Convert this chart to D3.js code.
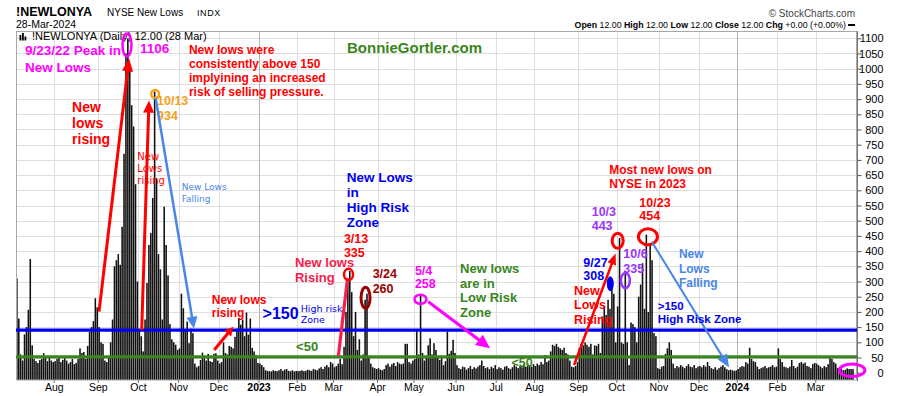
<!DOCTYPE html>
<html><head><meta charset="utf-8">
<script src="https://cdn.jsdelivr.net/npm/d3@7"></script>
<style>
html,body{margin:0;padding:0;background:#fff;}
svg{display:block;font-family:"Liberation Sans",Arial,Helvetica,sans-serif;}
</style></head><body>
<svg id="chart" width="900" height="396"></svg>
<script>
// ---------------- DATA ----------------
const symbol = "!NEWLONYA";
const seriesName = "NYSE New Lows";
const lastDateLabel = "28-Mar-2024";
const firstDay = "2022-07-01";
const lastDay = "2024-03-28";
const marketHolidays = ["2022-07-04","2022-09-05","2022-11-24","2022-12-26","2023-01-02","2023-01-16",
  "2023-02-20","2023-04-07","2023-05-29","2023-06-19","2023-07-04","2023-09-04","2023-11-23",
  "2023-12-25","2024-01-01","2024-01-15","2024-02-19"];
// daily NYSE new lows (Jul 2022 - Dec 2022)
const lows2022 = [
  310,178,60,40,126,150,207,374,90,45,38,32,42,45,64,48,38,52,40,35,
  38,45,50,35,42,48,40,30,35,45,28,32,45,80,65,68,45,88,135,150,170,245,215,
  150,100,95,40,35,55,100,175,350,370,390,355,480,720,1050,1100,1015,880,810,620,300,
  140,120,70,175,295,420,460,575,925,640,390,340,175,546,420,320,160,110,100,92,75,
  80,260,212,140,168,97,145,130,30,18,22,42,66,55,40,62,38,35,62,64,40,
  30,35,100,65,60,88,85,80,118,145,180,158,175,120,198,125,178,82,70,58,32];
const lows2023 = [
  30,25,18,8,6,5,4,8,6,5,8,12,6,10,12,6,5,8,4,6,
  5,6,8,5,6,10,8,6,12,10,8,14,18,12,20,25,18,35,30,
  18,22,30,45,28,85,200,295,335,265,120,200,75,110,40,60,240,260,55,30,18,15,12,
  15,10,8,12,25,30,20,28,32,22,35,30,28,30,95,95,35,30,40,
  45,140,60,258,65,40,55,90,113,60,97,75,50,42,53,25,38,135,62,72,108,65,
  25,15,12,20,18,10,15,22,12,18,14,20,25,40,22,15,18,12,20,15,25,
  12,18,15,10,20,22,15,12,18,25,20,15,22,18,28,20,30,25,20,28,
  22,30,25,35,28,58,35,40,70,92,88,95,85,80,75,82,65,60,40,20,18,22,35,
  80,95,90,100,92,85,95,60,90,88,95,65,185,218,190,240,210,308,260,100,
  218,443,100,95,335,100,25,165,160,150,100,250,290,360,210,454,200,420,370,130,120,15,
  12,20,22,62,80,100,75,30,15,22,18,25,20,15,22,28,20,18,25,15,20,
  22,18,25,20,35,22,15,12,18,10,15,20,25,18,12,8,10,8,6,8];
const lows2024 = [
  12,18,22,20,35,30,82,45,38,35,20,12,15,18,22,15,18,20,25,18,20,
  80,45,35,20,18,15,20,42,22,15,20,32,35,30,33,22,20,15,28,32,
  30,25,20,15,22,18,28,55,45,35,30,15,10,12,8,10,14,12,12,12];
const yTickValues = [0,50,100,150,200,250,300,350,400,450,500,550,600,650,700,750,800,850,900,950,1000,1050,1100];
const highRiskLevel = 140;
const lowRiskLevel = 52;
const quote = [["Open","12.00"],["High","12.00"],["Low","12.00"],["Close","12.00"],["Chg","+0.00 (+0.00%)"]];

// ---------------- SETUP ----------------
const newLows = lows2022.concat(lows2023, lows2024);
const parse = d3.utcParse("%Y-%m-%d"), fmt = d3.utcFormat("%Y-%m-%d");
const hol = new Set(marketHolidays);
const tradingDays = d3.utcDays(parse(firstDay), d3.utcDay.offset(parse(lastDay), 1))
  .filter(d => d.getUTCDay() % 6 !== 0 && !hol.has(fmt(d)));
const keys = tradingDays.map(fmt);
const n = keys.length;
const data = keys.map((k, i) => ({key: k, date: tradingDays[i], v: newLows[i]}));

const svg = d3.select("#chart");
const L = 16, R = 857, T = 31, B = 380;
const x = d3.scaleBand().domain(keys).range([16, 854]).padding(0);
const step = x.step();
const xi = d3.scaleLinear().domain([0, n - 1]).range([x(keys[0]) + step / 2, x(keys[n - 1]) + step / 2]);
const y = d3.scaleLinear().domain([-24, 1124]).range([B, T]);
const crisp = v => Math.round(v) + 0.5;

// month starts
const monthStarts = data.filter((d, i) => i === 0 || d.date.getUTCMonth() !== data[i - 1].date.getUTCMonth()).slice(1);

// ---------------- GRID ----------------
const grid = svg.append("g");
grid.selectAll("line.h").data(yTickValues).join("line")
  .attr("x1", L).attr("x2", R).attr("y1", d => crisp(y(d))).attr("y2", d => crisp(y(d)))
  .attr("stroke", "#dedede").attr("stroke-width", 1);
grid.selectAll("line.v").data(monthStarts).join("line")
  .attr("x1", d => crisp(x(d.key))).attr("x2", d => crisp(x(d.key)))
  .attr("y1", T).attr("y2", B)
  .attr("stroke", d => d.date.getUTCMonth() === 0 ? "#b4b4b4" : "#dedede").attr("stroke-width", 1);

// ---------------- BARS ----------------
svg.append("g").selectAll("rect").data(data).join("rect")
  .attr("x", d => x(d.key) + 0.1)
  .attr("width", step - 0.35)
  .attr("y", d => y(d.v))
  .attr("height", d => y(-24) - y(d.v))
  .attr("fill", "#111");

// frame
svg.append("rect").attr("x", L + 0.5).attr("y", T + 0.5).attr("width", R - L - 1).attr("height", B - T - 0.5)
  .attr("fill", "none").attr("stroke", "#a8a8a8");
svg.append("line").attr("x1", R + 0.5).attr("x2", R + 0.5).attr("y1", T).attr("y2", B + 1).attr("stroke", "#777");

// ---------------- LEVEL LINES ----------------
svg.append("line").attr("x1", L).attr("x2", R).attr("y1", y(highRiskLevel)).attr("y2", y(highRiskLevel))
  .attr("stroke", "#0000f0").attr("stroke-width", 3.2);
svg.append("line").attr("x1", L).attr("x2", R).attr("y1", y(lowRiskLevel)).attr("y2", y(lowRiskLevel))
  .attr("stroke", "#3a8520").attr("stroke-width", 3.2);

// ---------------- AXES ----------------
const ya = svg.append("g").attr("transform", `translate(${R + 0.5},0)`)
  .call(d3.axisRight(y).tickValues(yTickValues).tickFormat(d3.format("d")).tickSize(4).tickSizeOuter(0));
ya.select(".domain").remove();
ya.selectAll(".tick line").attr("stroke", "#555");
ya.selectAll(".tick text").attr("x", 26).attr("text-anchor", "end")
  .attr("font-family", "Liberation Sans, Arial, sans-serif").attr("font-size", 11).attr("fill", "#000");

const xa = svg.append("g").attr("transform", `translate(${-step / 2},${B})`)
  .call(d3.axisBottom(x).tickValues(monthStarts.map(d => d.key)).tickSize(3).tickSizeOuter(0).tickPadding(1)
    .tickFormat(k => { const d = parse(k); return d.getUTCMonth() === 0 ? d3.utcFormat("%Y")(d) : d3.utcFormat("%b")(d); }));
xa.select(".domain").remove();
xa.selectAll(".tick line").attr("stroke", "#777");
xa.selectAll(".tick text").attr("font-family", "Liberation Sans, Arial, sans-serif").attr("font-size", 10.5)
  .attr("fill", "#000").attr("font-weight", k => parse(k).getUTCMonth() === 0 ? "bold" : "normal");

// ---------------- HEADER ----------------
svg.append("text").attr("x", 16).attr("y", 15.5).attr("font-size", 12.5).attr("font-weight", "bold").text(symbol);
svg.append("text").attr("x", 107).attr("y", 15.5).attr("font-size", 10).text(seriesName);
svg.append("text").attr("x", 197).attr("y", 15.5).attr("font-size", 9).attr("letter-spacing", 0.6).text("INDX");
svg.append("text").attr("x", 16).attr("y", 27.5).attr("font-size", 10.5).text(lastDateLabel);
svg.append("text").attr("x", 855).attr("y", 16.5).attr("font-size", 10).attr("text-anchor", "end")
  .attr("fill", "#444").text("\u00A9 StockCharts.com");
const qt = svg.append("text").attr("x", 846).attr("y", 27.5).attr("font-size", 8.8).attr("text-anchor", "end");
quote.forEach(([k, v], j) => {
  qt.append("tspan").attr("font-weight", "bold").text((j ? " " : "") + k + " ");
  qt.append("tspan").text(v);
});
svg.append("rect").attr("x", 848).attr("y", 24).attr("width", 7).attr("height", 2).attr("fill", "#000");
// legend
const leg = svg.append("g");
[[19.5, 35], [22, 33], [24.5, 36.5]].forEach(([lx, ly]) =>
  leg.append("rect").attr("x", lx).attr("y", ly).attr("width", 1.8).attr("height", 40.5 - ly).attr("fill", "#000"));
svg.append("text").attr("x", 32).attr("y", 40).attr("font-size", 11)
  .text(`${symbol} (Daily) 12.00 (28 Mar)`);

// ---------------- ANNOTATIONS ----------------
const RED = "#ff0000", PINK = "#f7204c", MAG = "#ff00ff", ORANGE = "#f5a11a", LBLUE = "#4a86e8",
  BLUE = "#0000f0", PURPLE = "#9933ff", DKRED = "#990000", GREEN = "#3a8520";
const SANS = "Liberation Sans, Arial, sans-serif", VERD = "DejaVu Sans, Verdana, sans-serif";
const ann = svg.append("g");

function note(i, v, lines, color, size, dy, bold = true, family = SANS) {
  const t = ann.append("text").attr("x", xi(i)).attr("y", y(v)).attr("fill", color)
    .attr("font-size", size).attr("font-weight", bold ? "bold" : "normal").attr("font-family", family);
  lines.forEach((s, j) => t.append("tspan").attr("x", xi(i)).attr("dy", j ? dy : 0).text(s));
}
function ring(i, v, rx, ry, color, sw, filled = false) {
  ann.append("ellipse").attr("cx", xi(i)).attr("cy", y(v)).attr("rx", rx).attr("ry", ry)
    .attr("fill", filled ? color : "none").attr("stroke", color).attr("stroke-width", sw);
}
function arrow(a, b, color, sw, head) {
  const x0 = xi(a[0]), y0 = y(a[1]), x1 = xi(b[0]), y1 = y(b[1]);
  const dx = x1 - x0, dy = y1 - y0, len = Math.hypot(dx, dy), ux = dx / len, uy = dy / len;
  const hl = head ? head[0] : 0, hw = head ? head[1] : 0;
  ann.append("line").attr("x1", x0).attr("y1", y0)
    .attr("x2", x1 - ux * hl * 0.8).attr("y2", y1 - uy * hl * 0.8)
    .attr("stroke", color).attr("stroke-width", sw);
  if (head) {
    const bx = x1 - ux * hl, by = y1 - uy * hl;
    ann.append("path").attr("d", `M${x1},${y1}L${bx - uy * hw / 2},${by + ux * hw / 2}L${bx + uy * hw / 2},${by - ux * hw / 2}Z`)
      .attr("fill", color);
  }
}

// 2022 peak
note(4.2, 1045, ["9/23/22 Peak in", "New Lows"], MAG, 13.5, 16.5);
note(64.3, 1053, ["1106"], MAG, 13.5, 0);
ring(57.5, 1078, 4.5, 11.5, MAG, 2.5);
note(89.9, 1048, ["New lows were", "consistently above 150", "implyining an increased", "risk of selling pressure."], RED, 12, 14);
note(172.5, 1050, ["BonnieGortler.com"], GREEN, 15, 0);
note(28.8, 856, ["New", "lows", "rising"], RED, 14, 15.7);
arrow([42.9, 201], [58.6, 1034], RED, 3, [13, 11]);
note(62.9, 700, ["New", "Lows", "rising"], RED, 10, 12, false, VERD);
arrow([65.2, 140.5], [69, 895], RED, 3, [12, 11]);
note(73.2, 882, ["10/13", "934"], ORANGE, 12.5, 15);
ring(72.2, 917, 4, 4, ORANGE, 2.5);
arrow([72.5, 903], [92.5, 145], LBLUE, 2.5, [12, 11]);
note(86.1, 601, ["New Lows", "Falling"], LBLUE, 9, 12, false, VERD);
note(101.8, 227.6, ["New lows", "rising"], RED, 12, 13);
arrow([103.1, 74.7], [113.1, 151.3], RED, 3, [9, 9]);
note(128.4, 176.6, [">150"], BLUE, 16, 0);
note(148.3, 201, ["High risk", "Zone"], BLUE, 9.5, 11.5, false, VERD);
note(145.9, 71.4, ["<50"], GREEN, 13, 0);
note(258.5, 20.4, ["<50"], GREEN, 12.5, 0);
// 2023 March
note(145.3, 347.7, ["New lows", "Rising"], PINK, 13, 15);
arrow([168, 55], [172.8, 311.5], PINK, 3.2, null);
note(172.4, 625.7, ["New Lows", "in", "High Risk", "Zone"], BLUE, 13.5, 14.7);
note(170.9, 426, ["3/13", "335"], RED, 12.5, 14);
ring(173.3, 323, 4.5, 5.7, RED, 2.5);
note(185.9, 311.5, ["3/24", "260"], DKRED, 12.5, 15);
ring(182.2, 246.4, 4.5, 10.5, DKRED, 3);
// May
note(208, 323, ["5/4", "258"], MAG, 12.5, 13);
ring(210.9, 241.8, 6, 4.5, MAG, 2.5);
arrow([215, 233.6], [247.3, 80.3], MAG, 3, [14, 13]);
note(231.6, 329, ["New lows", "are in", "Low Risk", "Zone"], GREEN, 13, 14.9);
// Fall 2023
arrow([291.2, 25.3], [312.9, 392], RED, 2.5, [11, 9]);
note(291.2, 255.6, ["New", "Lows", "Rising"], RED, 12.5, 14.3);
note(296, 348.7, ["9/27", "308"], BLUE, 12.5, 13.3);
ring(310.1, 292.8, 3, 7, BLUE, 1, true);
note(300.4, 515.5, ["10/3", "443"], PURPLE, 12.5, 14);
ring(314, 434, 5.5, 7.5, RED, 3);
note(316.9, 376.3, ["10/6", "335"], PURPLE, 12.5, 14.4);
ring(318, 303.3, 4.5, 7.5, PURPLE, 2.5);
note(309.6, 653.6, ["Most new lows on", "NYSE in 2023"], RED, 12, 14.3);
note(325.3, 546, ["10/23", "454"], RED, 12.5, 13.6);
ring(329.8, 447.4, 9.5, 8, RED, 3);
arrow([331.8, 431], [372.2, 17.1], LBLUE, 2, [13, 11]);
note(346, 376.3, ["New", "Lows", "Falling"], LBLUE, 12, 14.3);
note(334.9, 206.3, [">150", "High Risk Zone"], BLUE, 11.5, 13.5);
ring(436.5, 8, 12.8, 6.3, MAG, 3);
</script>
</body></html>
